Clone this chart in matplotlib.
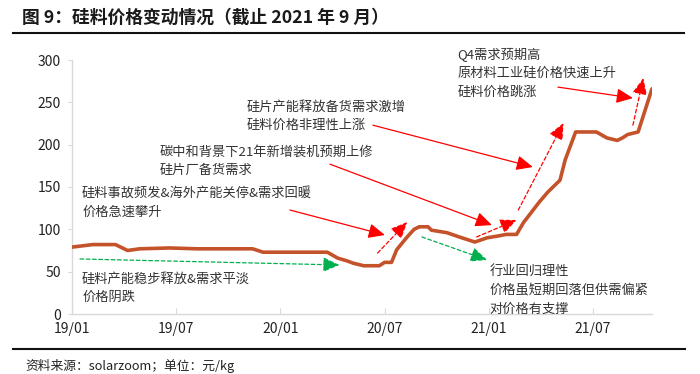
import matplotlib
matplotlib.use("Agg")
import matplotlib.pyplot as plt
from matplotlib.lines import Line2D

plt.rcParams['font.family'] = ['Noto Sans CJK SC', 'DejaVu Sans']

# ---- data (x = months since 2019-01) ----
months = [0, 1.2, 2.5, 3.2, 3.9, 5.6, 7.2, 10.4, 11.0, 14.7, 15.3, 15.8, 16.2, 16.8,
          17.7, 18.0, 18.4, 18.7, 18.9, 19.3, 19.7, 20.0, 20.5, 20.7, 21.6, 22.3,
          23.2, 23.9, 24.5, 25.0, 25.6, 26.0, 26.9, 27.4, 28.1, 28.4, 29.0, 30.2,
          30.8, 31.4, 31.7, 32.0, 32.6, 33.4]
price = [79, 82, 82, 75, 77, 78, 77, 77, 73, 73, 66, 63, 60, 57,
         57, 61, 61, 76, 81, 91, 100, 103, 103, 99, 96, 91,
         85, 90, 92, 94, 94, 108, 132, 144, 158, 182, 215, 215,
         208, 205, 208, 212, 215, 266]
tick_pos = [0, 6, 12, 18, 24, 30]
tick_labels = ['19/01', '19/07', '20/01', '20/07', '21/01', '21/07']
y_ticks = [0, 50, 100, 150, 200, 250, 300]

W, H = 700, 374
fig = plt.figure(figsize=(W / 100, H / 100), dpi=100)
ax = fig.add_axes([72 / W, (H - 314) / H, (652 - 72) / W, (314 - 60) / H])

ax.plot(months, price, color='#C4522A', lw=2.6, solid_joinstyle='round',
        solid_capstyle='round', zorder=3)

ax.set_xlim(0, 33.4)
ax.set_ylim(0, 300)
ax.set_xticks(tick_pos)
ax.set_xticklabels(tick_labels)
ax.set_yticks(y_ticks)
for s in ['top', 'right']:
    ax.spines[s].set_visible(False)
for s in ['left', 'bottom']:
    ax.spines[s].set_color('#D9D9D9')
    ax.spines[s].set_linewidth(1)
ax.tick_params(axis='x', direction='in', length=4, color='#D9D9D9', pad=6,
               labelsize=10, labelcolor='#222222')
ax.tick_params(axis='y', direction='out', length=3, color='#D9D9D9', pad=5,
               labelsize=10, labelcolor='#222222')

txt_kw = dict(fontsize=9.5, color='#333333', ha='left', va='center', linespacing=1.55)
ax.text(0.58, 131.6, '硅料事故频发&海外产能关停&需求回暖\n价格急速攀升', **txt_kw)
ax.text(5.07, 180.6, '碳中和背景下21年新增装机预期上修\n硅片厂备货需求', **txt_kw)
ax.text(10.07, 233.8, '硅片产能释放备货需求激增\n硅料价格非理性上涨', **txt_kw)
ax.text(22.2, 284.5, 'Q4需求预期高\n原材料工业硅价格快速上升\n硅料价格跳涨', **txt_kw)
ax.text(0.58, 30.1, '硅料产能稳步释放&需求平淡\n价格阴跌', **txt_kw)
ax.text(24.06, 27.2, '行业回归理性\n价格虽短期回落但供需偏紧\n对价格有支撑', **txt_kw)

RED = '#FF0000'
GREEN = '#00B050'


def arrow(p0, p1, color, dashed):
    ax.annotate('', xy=p1, xytext=p0,
                arrowprops=dict(arrowstyle='-|>,head_length=1.0,head_width=0.45',
                                color=color, lw=0.9,
                                linestyle=(0, (3, 2)) if dashed else '-',
                                shrinkA=0, shrinkB=0),
                zorder=4)


# solid red pointers
arrow((12.55, 122.8), (18.02, 93.3), RED, False)
arrow((14.85, 177.0), (24.18, 105.0), RED, False)
arrow((17.33, 223.0), (26.54, 173.6), RED, False)
arrow((27.98, 268.0), (32.3, 255.0), RED, False)
# dashed red
arrow((17.6, 72.0), (19.3, 108.6), RED, True)
arrow((23.3, 91.0), (25.6, 111.0), RED, True)
arrow((25.7, 122.8), (28.3, 225.5), RED, True)
arrow((32.3, 223.0), (32.9, 278.6), RED, True)
# dashed green
arrow((0.46, 65.0), (15.4, 57.9), GREEN, True)
arrow((20.15, 91.0), (23.9, 63.8), GREEN, True)

# title and rules
fig.text(22 / W, 1 - 18 / H, '图 9：硅料价格变动情况（截止 2021 年 9 月）',
         fontsize=12.8, fontweight='bold', color='#1a1a1a', ha='left', va='center')
fig.add_artist(Line2D([13 / W, 684 / W], [1 - 33 / H, 1 - 33 / H],
                      color='#111111', lw=1.5, transform=fig.transFigure))
fig.add_artist(Line2D([13 / W, 685 / W], [1 - 349 / H, 1 - 349 / H],
                      color='#111111', lw=1.5, transform=fig.transFigure))
fig.text(25 / W, 1 - 366 / H, '资料来源：solarzoom；单位：元/kg',
         fontsize=9.2, color='#222222', ha='left', va='center')

fig.savefig('out.png', dpi=100)
